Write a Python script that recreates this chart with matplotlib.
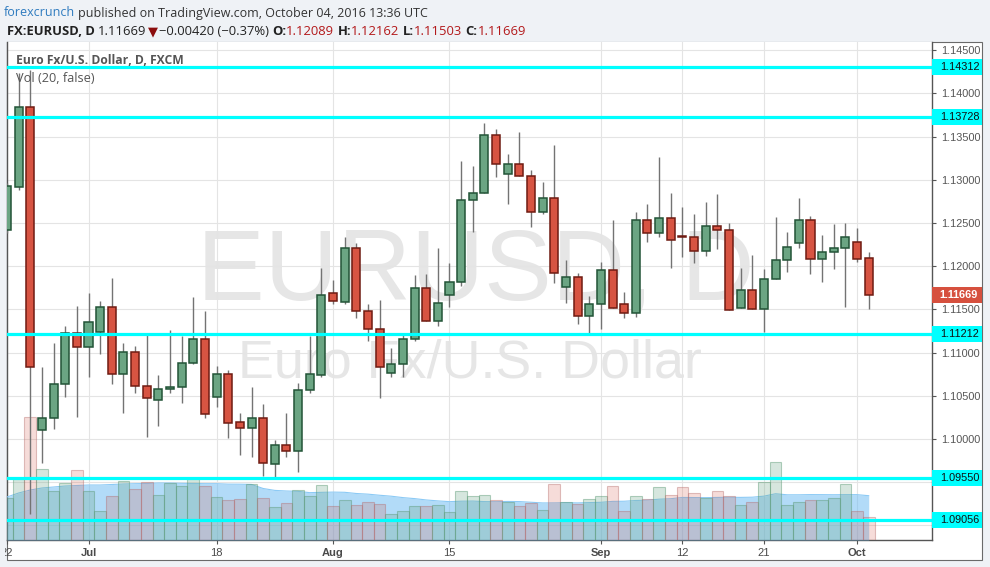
import numpy as np
import pandas as pd
import matplotlib
matplotlib.use('Agg')
import matplotlib.pyplot as plt
import matplotlib.transforms as mtransforms
from matplotlib.patches import Rectangle

# daily EUR/USD candles, FXCM, 22 Jun - 4 Oct 2016
dates = pd.bdate_range('2016-06-22', '2016-10-04')

opens = [1.12419, 1.12920, 1.13839, 1.10103, 1.10240, 1.10632, 1.11222, 1.11060, 1.11241, 1.11524,
         1.10748, 1.11002, 1.10609, 1.10447, 1.10574, 1.10597, 1.10875, 1.11153, 1.10488, 1.10751,
         1.10192, 1.10122, 1.10238, 1.09706, 1.09926, 1.09856, 1.10562, 1.10740, 1.11686, 1.11589,
         1.12207, 1.11477, 1.11269, 1.10759, 1.10863, 1.11153, 1.11744, 1.11361, 1.11662, 1.11813,
         1.12762, 1.12844, 1.13515, 1.13064, 1.13179, 1.13040, 1.12624, 1.12786, 1.11755, 1.11871,
         1.11419, 1.11558, 1.11952, 1.11558, 1.11454, 1.12531, 1.12380, 1.12554, 1.12345, 1.12334,
         1.12172, 1.12462, 1.12415, 1.11512, 1.11721, 1.11500, 1.11848, 1.12068, 1.12265, 1.12531,
         1.12079, 1.12160, 1.12207, 1.12276, 1.12089]
highs = [1.12960, 1.14240, 1.14271, 1.10832, 1.11114, 1.11307, 1.11539, 1.11686, 1.11596, 1.11859,
         1.11114, 1.11075, 1.11203, 1.10740, 1.11261, 1.11195, 1.11646, 1.11481, 1.10844, 1.10797,
         1.10296, 1.10597, 1.10400, 1.09987, 1.10296, 1.10643, 1.11191, 1.11975, 1.11840, 1.12341,
         1.12264, 1.11562, 1.11608, 1.11049, 1.11203, 1.11898, 1.11909, 1.12214, 1.12033, 1.13218,
         1.13160, 1.13658, 1.13588, 1.13299, 1.13553, 1.13113, 1.12974, 1.13403, 1.12071, 1.11924,
         1.11658, 1.12048, 1.12534, 1.11704, 1.12631, 1.12720, 1.13268, 1.12851, 1.12681, 1.12604,
         1.12743, 1.12836, 1.12496, 1.11982, 1.12129, 1.11971, 1.12569, 1.12398, 1.12786, 1.12577,
         1.12361, 1.12488, 1.12500, 1.12438, 1.12162]
lows = [1.12380, 1.12880, 1.09130, 1.09720, 1.10111, 1.10488, 1.10250, 1.10720, 1.10979, 1.10632,
        1.10296, 1.10528, 1.10025, 1.10152, 1.10528, 1.10419, 1.10870, 1.10245, 1.10372, 1.10007,
        1.09817, 1.09793, 1.09574, 1.09532, 1.09786, 1.09613, 1.10528, 1.10720, 1.11562, 1.11562,
        1.11399, 1.11137, 1.10470, 1.10720, 1.10713, 1.11133, 1.11361, 1.11311, 1.11531, 1.11774,
        1.12399, 1.12844, 1.13036, 1.12716, 1.13040, 1.12457, 1.12600, 1.11808, 1.11577, 1.11327,
        1.11222, 1.11276, 1.11512, 1.11396, 1.11408, 1.12283, 1.12341, 1.11982, 1.12110, 1.12040,
        1.12121, 1.12195, 1.11489, 1.11512, 1.11500, 1.11241, 1.11848, 1.11936, 1.12214, 1.11913,
        1.11820, 1.11971, 1.11531, 1.12052, 1.11503]
closes = [1.12928, 1.13839, 1.10832, 1.10242, 1.10632, 1.11222, 1.11060, 1.11350, 1.11524, 1.10751,
          1.11002, 1.10612, 1.10470, 1.10574, 1.10597, 1.10875, 1.11153, 1.10285, 1.10751, 1.10187,
          1.10122, 1.10238, 1.09717, 1.09926, 1.09856, 1.10562, 1.10748, 1.11662, 1.11593, 1.12207,
          1.11477, 1.11269, 1.10829, 1.10863, 1.11153, 1.11744, 1.11361, 1.11570, 1.11813, 1.12766,
          1.12844, 1.13515, 1.13179, 1.13179, 1.13040, 1.12624, 1.12786, 1.11917, 1.11871, 1.11419,
          1.11558, 1.11952, 1.11512, 1.11454, 1.12531, 1.12380, 1.12554, 1.12299, 1.12337, 1.12172,
          1.12462, 1.12415, 1.11489, 1.11721, 1.11500, 1.11848, 1.12068, 1.12218, 1.12531, 1.12079,
          1.12160, 1.12207, 1.12334, 1.12079, 1.11669]
volumes = [42, 61, 123, 71, 49, 57, 70, 49, 29, 44, 59, 51, 58, 45, 57, 54, 61, 54, 43, 40,
           41, 56, 42, 33, 37, 50, 44, 55, 34, 40, 35, 38, 36, 26, 29, 34, 34, 35, 28, 49,
           44, 45, 40, 38, 34, 37, 30, 56, 38, 36, 41, 44, 54, 29, 44, 41, 53, 45, 53, 47,
           42, 49, 44, 35, 38, 58, 78, 35, 38, 40, 40, 42, 56, 29, 23]
# Vol MA(20) for the first bars (needs history before the window)
vol_ma_head = [43, 47, 50, 52, 53, 54, 54.5, 55, 55, 55.5, 56, 56.3, 56.5, 57, 57, 56.7, 56.5, 56.3, 56.3]

levels = [1.14312, 1.13728, 1.11212, 1.09550, 1.09056]
last_price = 1.11669
tick_dates = ['2016-06-22', '2016-07-01', '2016-07-18', '2016-08-01', '2016-08-15',
              '2016-09-01', '2016-09-12', '2016-09-21', '2016-10-03']

W, H = 990, 567
fig = plt.figure(figsize=(W / 100, H / 100), dpi=100, facecolor='#eff2f6')


def fx(px):
    return px / W


def fy(py):
    return 1 - py / H


L, R, T, B = 7, 932, 42, 540
rect = [fx(L), fy(B), (R - L) / W, (B - T) / H]

# white chart panel
panel = Rectangle((fx(L), fy(560)), (982 - L) / W, (560 - T) / H, transform=fig.transFigure,
                  facecolor='white', edgecolor='#6a6a6a', lw=0.8, zorder=0)
fig.patches.append(panel)

idx = np.arange(len(dates))
o = np.array(opens); h = np.array(highs); lo = np.array(lows); c = np.array(closes)
up = c >= o
vol = pd.Series(volumes, dtype=float)
vol_ma = vol.rolling(20).mean().values
vol_ma[:len(vol_ma_head)] = vol_ma_head

xlim = (0.24, 0.24 + (R - L) / 11.68)
ylim = (1.08829, 1.14596)

ax_bg = fig.add_axes(rect, zorder=1)
ax_bg.set_facecolor('white')
ax_vol = fig.add_axes(rect, zorder=2, sharex=ax_bg)
ax_vol.patch.set_visible(False)
ax_vol.axis('off')
ax = fig.add_axes(rect, zorder=3, sharex=ax_bg, sharey=ax_bg)
ax.patch.set_visible(False)
ax.axis('off')
ax_bg.set_xlim(*xlim)
ax_bg.set_ylim(*ylim)
ax_vol.set_ylim(0, B - T)

# price axis (labels hidden behind the level boxes are left blank)
yt = np.arange(1.09, 1.14501, 0.005)
ax_bg.yaxis.tick_right()
ax_bg.set_yticks(yt)
ylabs = []
for v in yt:
    hidden = any(abs(v - lv) < 0.0011 for lv in levels)
    ylabs.append('' if hidden else f'{v:.5f}')
ax_bg.set_yticklabels(ylabs, family='Liberation Sans')
ax_bg.tick_params(axis='y', direction='out', length=3, color='#555555', labelsize=7.8,
                  labelcolor='#555555', pad=3.5)

# time axis
tpos = [dates.get_loc(pd.Timestamp(d)) for d in tick_dates]
tlab = []
for d in tick_dates:
    d = pd.Timestamp(d)
    first = d == dates[dates.month == d.month][0]
    tlab.append(d.strftime('%b') if first and d.month != 6 else str(d.day))
ax_bg.set_xticks(tpos)
ax_bg.set_xticklabels(tlab, family='Liberation Sans')
ax_bg.tick_params(axis='x', direction='out', length=3, color='#555555', labelsize=8,
                  labelcolor='#4a4a4a', pad=3)
for lab, txt in zip(ax_bg.get_xticklabels(), tlab):
    if not txt.isdigit():
        lab.set_fontweight('bold')
clip = Rectangle((fx(5), 0), 1, 1, transform=fig.transFigure, visible=False)
fig.patches.append(clip)
ax_bg.get_xticklabels()[0].set_clip_path(clip)

ax_bg.grid(color='#e4e4e4', lw=0.8)
ax_bg.set_axisbelow(True)
for s in ['left', 'right', 'bottom']:
    ax_bg.spines[s].set_color('#555555')
    ax_bg.spines[s].set_linewidth(1.0)
ax_bg.spines['top'].set_visible(False)

# watermark
ax_bg.text(fx(476), fy(300), 'EURUSD, D', transform=fig.transFigure, ha='center', va='baseline',
           fontsize=73, color='#e6e6e6', family='Liberation Sans', zorder=0.5)
ax_bg.text(fx(470), fy(377), 'Euro Fx/U.S. Dollar', transform=fig.transFigure, ha='center',
           va='baseline', fontsize=38.8, color='#e6e6e6', family='Liberation Sans', zorder=0.5)

# volume + MA area
ax_vol.fill_between(idx, 0, vol_ma, color=(103 / 255, 185 / 255, 243 / 255), alpha=0.5, lw=0, zorder=1)
ax_vol.plot(idx, vol_ma, color='#8ccaf5', lw=0.8, zorder=1.5)
vcol = [(0.42, 0.65, 0.52, 0.27) if u else (0.84, 0.33, 0.26, 0.2) for u in up]
vedge = [(0.35, 0.6, 0.45, 0.45) if u else (0.7, 0.4, 0.4, 0.4) for u in up]
ax_vol.bar(idx, vol, width=1.0, color=vcol, edgecolor=vedge, lw=0.8, zorder=2)

# candles
ax.vlines(idx, lo, h, color='#737373', lw=1.0, zorder=2)
body = ['#6ba583' if u else '#d75442' for u in up]
edge = ['#225437' if u else '#6f1b12' for u in up]
ax.bar(idx, c - o, bottom=o, width=0.69, color=body, edgecolor=edge, lw=1.1, zorder=3)

# horizontal levels with price boxes
bt = mtransforms.blended_transform_factory(ax.transAxes, ax.transData)
px_price = (ylim[1] - ylim[0]) / (B - T)
box_w = 50 / (R - L)
for lv in levels:
    ax.axhline(lv, color='#00ffff', lw=2.3, zorder=4)
    ax.add_patch(Rectangle((1.0, lv - 8 * px_price), box_w, 16 * px_price, transform=bt,
                           facecolor='#00ffff', lw=0, clip_on=False, zorder=5))
    ax.text((940 - L) / (R - L), lv, f'{lv:.5f}', transform=bt, ha='left', va='center',
            fontsize=7.8, color='#111111', family='Liberation Sans', clip_on=False, zorder=6)
ax.add_patch(Rectangle((1.0, last_price - 8 * px_price), box_w, 16 * px_price, transform=bt,
                       facecolor='#d6503e', lw=0, clip_on=False, zorder=5))
ax.text((939 - L) / (R - L), last_price, f'{last_price:.5f}', transform=bt, ha='left', va='center',
        fontsize=7.8, color='white', fontweight='bold', family='Liberation Sans', clip_on=False, zorder=6)

# header and legend texts
renderer = fig.canvas.get_renderer()
FAM = ['Open Sans', 'DejaVu Sans']


def text_row(x, y, parts, size, width):
    for attempt in range(3):
        arts = []
        cx = x
        for s, col, wt, gap in parts:
            t = fig.text(fx(cx), fy(y), s, color=col, fontweight=wt, fontsize=size,
                         family=FAM, ha='left', va='baseline')
            cx += t.get_window_extent(renderer).width + gap * size * 100 / 72
            arts.append(t)
        if attempt == 2:
            return arts
        for t in arts:
            t.remove()
        size *= width / (cx - x)


SP = 0.26
red = '#b3191b'
dark = '#222222'
text_row(4, 16.5, [('forexcrunch', '#2e7bbf', 'normal', SP),
                   ('published on TradingView.com, October 04, 2016 13:36 UTC', '#333333', 'normal', 0)],
         9.5, 422)
text_row(7, 35, [('FX:EURUSD, D', dark, 'bold', SP),
                 ('1.11669', dark, 'normal', 0.1),
                 ('▼', '#8b0d0d', 'normal', 0.05),
                 ('−0.00420 (−0.37%)', dark, 'normal', SP),
                 ('O:', dark, 'bold', 0), ('1.12089', red, 'normal', SP),
                 ('H:', dark, 'bold', 0), ('1.12162', red, 'normal', SP),
                 ('L:', dark, 'bold', 0), ('1.11503', red, 'normal', SP),
                 ('C:', dark, 'bold', 0), ('1.11669', red, 'normal', 0)],
         9.5, 519)
text_row(15.7, 63.5, [('Euro Fx/U.S. Dollar, D, FXCM', '#555555', 'bold', 0)], 9.5, 168)
text_row(15.7, 81.5, [('Vol (20, false)', '#555555', 'normal', 0)], 9.5, 79)

fig.savefig('out.png', dpi=100, facecolor=fig.get_facecolor())
